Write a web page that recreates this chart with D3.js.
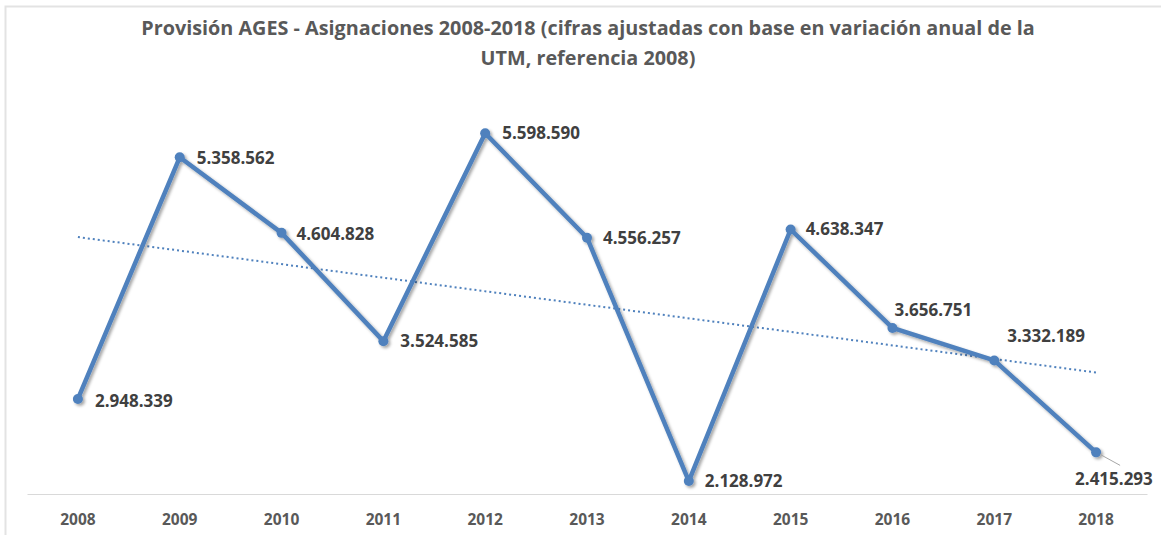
<!DOCTYPE html>
<html>
<head>
<meta charset="utf-8">
<script src="https://cdn.jsdelivr.net/npm/d3@7"></script>
<style>
  body { margin: 0; background: #fff; }
  svg { display: block; }
</style>
</head>
<body>
<div id="chart"></div>
<script>
var svgWidth = 1161;
var svgHeight = 535;

var margin = { top: 93, right: 14, bottom: 41, left: 27 };
var width = svgWidth - margin.left - margin.right;
var height = svgHeight - margin.top - margin.bottom;

// data
var years = ["2008", "2009", "2010", "2011", "2012", "2013", "2014", "2015", "2016", "2017", "2018"];
var values = [2948339, 5358562, 4604828, 3524585, 5598590, 4556257, 2128972, 4638347, 3656751, 3332189, 2415293];
var titleLines = ["Provisión AGES - Asignaciones 2008-2018 (cifras ajustadas con base en variación anual de la",
                  "UTM, referencia 2008)"];

// label offsets (dx from point, dy of text middle from point)
var labelOffsets = [[17, 2], [17, 1], [15, 1], [17, 0], [17, 0], [16, 0], [16, 0], [15, 0], [2, -18], [13, -24], [-21, 27]];

var lineColor = "#4f81bd";

var svg = d3.select("#chart")
  .append("svg")
  .attr("width", svgWidth)
  .attr("height", svgHeight);

// frame
svg.append("path")
  .attr("d", "M5.5," + svgHeight + " V6.5 H" + svgWidth)
  .attr("fill", "none")
  .attr("stroke", "#e3e3e3")
  .attr("stroke-width", 2);

// shadow filter
var defs = svg.append("defs");
var filt = defs.append("filter").attr("id", "shadow")
  .attr("x", "-10%").attr("y", "-10%").attr("width", "120%").attr("height", "120%");
filt.append("feDropShadow")
  .attr("dx", 2).attr("dy", 2).attr("stdDeviation", 1.5)
  .attr("flood-color", "#000").attr("flood-opacity", 0.35);

// title
svg.append("g").selectAll("text")
  .data(titleLines)
  .join("text")
  .attr("x", 588)
  .attr("y", (d, i) => 35 + i * 30)
  .attr("text-anchor", "middle")
  .style("font-family", "'Open Sans', sans-serif")
  .style("font-weight", "bold")
  .style("font-size", "19.8px")
  .attr("fill", "#595959")
  .text(d => d);

var chartGroup = svg.append("g")
  .attr("transform", `translate(${margin.left}, ${margin.top})`);

var xScale = d3.scaleBand()
  .domain(years)
  .range([0, width]);

var yScale = d3.scaleLinear()
  .domain([2000000, 6000000])
  .range([height, 0]);

var cx = d => xScale(d) + xScale.bandwidth() / 2;

// x axis
var bottomAxis = d3.axisBottom(xScale).tickSize(0).tickPadding(20);
var xAxis = chartGroup.append("g")
  .attr("transform", `translate(0, ${height})`)
  .call(bottomAxis);
xAxis.select(".domain").attr("stroke", "#d9d9d9").attr("stroke-width", 1);
xAxis.selectAll("text")
  .style("font-family", "'Open Sans', sans-serif")
  .style("font-weight", "bold")
  .style("font-size", "15.5px")
  .attr("fill", "#595959");

// trend line (least squares over category index)
var n = values.length;
var xs = d3.range(1, n + 1);
var mx = d3.mean(xs), my = d3.mean(values);
var slope = d3.sum(xs, (x, i) => (x - mx) * (values[i] - my)) / d3.sum(xs, x => (x - mx) * (x - mx));
var intercept = my - slope * mx;
var trend = [1, n].map(x => ({ year: years[x - 1], v: intercept + slope * x }));

chartGroup.append("path")
  .datum(trend)
  .attr("d", d3.line().x(d => cx(d.year)).y(d => yScale(d.v)))
  .attr("fill", "none")
  .attr("stroke", lineColor)
  .attr("stroke-width", 2)
  .attr("stroke-dasharray", "2,3");

var data = years.map((y, i) => ({ year: y, v: values[i], off: labelOffsets[i] }));

// series
var series = chartGroup.append("g").attr("filter", "url(#shadow)");
series.append("path")
  .datum(data)
  .attr("d", d3.line().x(d => cx(d.year)).y(d => yScale(d.v)))
  .attr("fill", "none")
  .attr("stroke", lineColor)
  .attr("stroke-width", 4.5)
  .attr("stroke-linejoin", "round");

series.selectAll("circle")
  .data(data)
  .join("circle")
  .attr("cx", d => cx(d.year))
  .attr("cy", d => yScale(d.v))
  .attr("r", 5)
  .attr("fill", lineColor);

// leader line for last label
var last = data[n - 1];
chartGroup.append("line")
  .attr("x1", cx(last.year) + 4)
  .attr("y1", yScale(last.v) + 2)
  .attr("x2", cx(last.year) + 24)
  .attr("y2", yScale(last.v) + 13)
  .attr("stroke", "#a6a6a6")
  .attr("stroke-width", 1);

// data labels
var fmt = v => d3.format(",")(v).replace(/,/g, ".");
chartGroup.append("g").selectAll("text")
  .data(data)
  .join("text")
  .attr("x", d => cx(d.year) + d.off[0])
  .attr("y", d => yScale(d.v) + d.off[1])
  .attr("dy", "0.35em")
  .style("font-family", "'Open Sans', sans-serif")
  .style("font-weight", "bold")
  .style("font-size", "17px")
  .attr("fill", "#404040")
  .text(d => fmt(d.v));
</script>
</body>
</html>
